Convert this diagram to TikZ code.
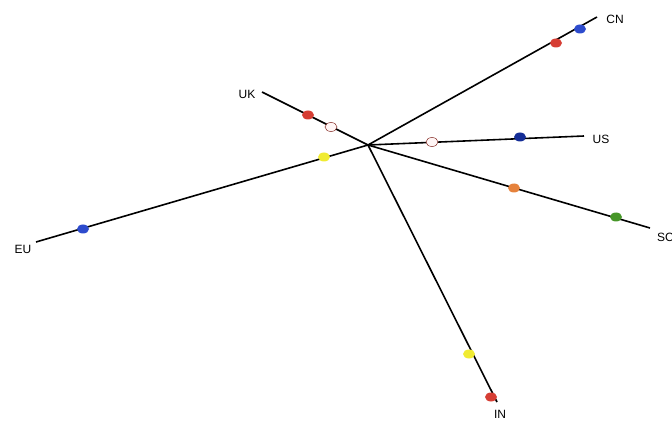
\documentclass[tikz,border=0pt]{standalone}
\usepackage{fontspec}
\setmainfont{Liberation Sans}
\usetikzlibrary{shapes.geometric}
\definecolor{dred}{RGB}{214,62,52}
\definecolor{dblue}{RGB}{45,75,205}
\definecolor{navy}{RGB}{20,45,150}
\definecolor{dyellow}{RGB}{240,235,50}
\definecolor{dorange}{RGB}{230,130,60}
\definecolor{dgreen}{RGB}{70,150,40}
\definecolor{dwhite}{RGB}{255,245,245}
\begin{document}
\begin{tikzpicture}[x=1pt,y=-1pt,
  branch/.style={line width=1.6pt,black},
  dot/.style={ellipse,minimum width=12pt,minimum height=9pt,inner sep=0pt,fill=#1},
  hollow/.style={ellipse,minimum width=12pt,minimum height=9pt,inner sep=0pt,fill=dwhite,draw=dred!60!black,line width=0.5pt},
  lab/.style={font=\fontsize{12}{14}\selectfont,inner sep=1pt}]
\useasboundingbox (0,0) rectangle (672,422);
\coordinate (c) at (368,145);
\coordinate (uk) at (262,92);
\coordinate (cn) at (597,17);
\coordinate (us) at (584,136);
\coordinate (sc) at (650,228);
\coordinate (in) at (497,402);
\coordinate (eu) at (36,242);
\draw[branch] (c) -- (uk);
\draw[branch] (c) -- (cn);
\draw[branch] (c) -- (us);
\draw[branch] (c) -- (sc);
\draw[branch] (c) -- (in);
\draw[branch] (c) -- (eu);
\node[lab] (luk) at (247,94) {UK};
\node[lab] (lcn) at (615,19) {CN};
\node[lab] (lus) at (601,139) {US};
\node[lab,anchor=west] (lsc) at (656,237) {SC};
\node[lab] (lin) at (500,414) {IN};
\node[lab] (leu) at (23,249) {EU};
\node[dot=dred] (d1) at (308,115) {};
\node[hollow] (d2) at (331,127) {};
\node[dot=dyellow] (d3) at (324,157) {};
\node[dot=dblue] (d4) at (83,229) {};
\node[dot=dred] (d5) at (556,43) {};
\node[dot=dblue] (d6) at (580,29) {};
\node[hollow] (d7) at (432,142) {};
\node[dot=navy] (d8) at (520,137) {};
\node[dot=dorange] (d9) at (514,188) {};
\node[dot=dgreen] (d10) at (616,217) {};
\node[dot=dyellow] (d11) at (469,354) {};
\node[dot=dred] (d12) at (491,397) {};
\end{tikzpicture}
\end{document}
